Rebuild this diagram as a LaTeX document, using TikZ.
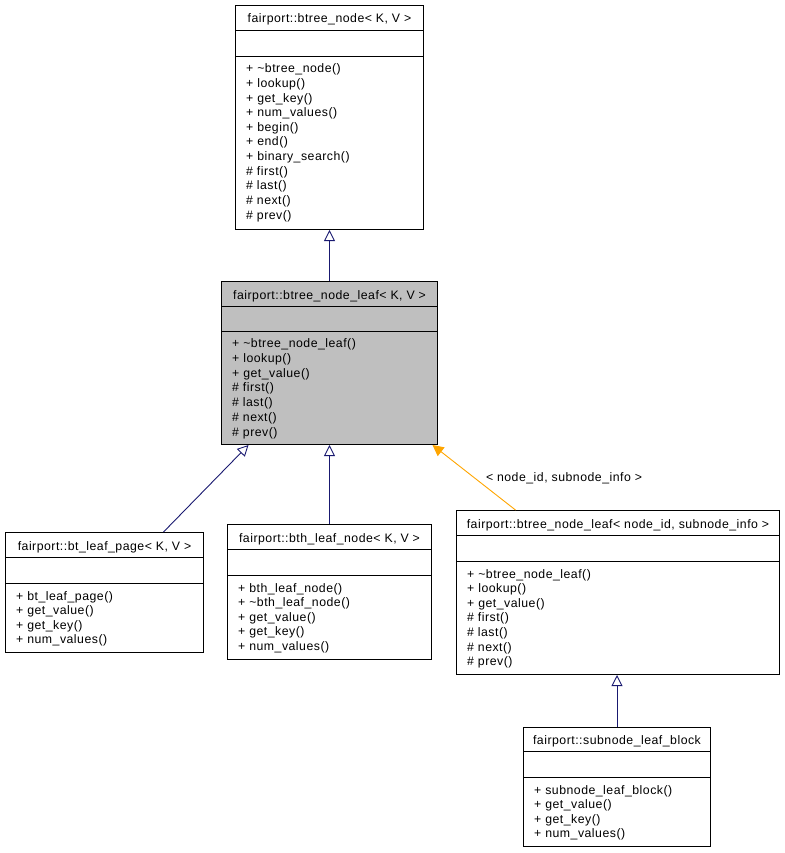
\documentclass[tikz,border=0pt]{standalone}
\usepackage{fontspec}
\setmainfont{Liberation Sans}[LetterSpace=4]
\usetikzlibrary{arrows.meta}
\definecolor{edgeblue}{HTML}{191970}
\definecolor{edgeorange}{HTML}{FFA500}
\definecolor{boxgray}{HTML}{BFBFBF}
\tikzset{
  classbox/.style={draw=black, line width=1pt, anchor=north west, inner sep=0pt},
  cname/.style={font=\fontsize{12.3}{14.6}\selectfont, inner sep=0pt, text height=8.5pt, text depth=2.5pt},
  member/.style={font=\fontsize{12.3}{14.6}\selectfont, anchor=west, inner sep=0pt, text height=8.5pt, text depth=2.5pt},
  inherit/.style={draw=edgeblue, line width=0.9pt, -{Triangle[open, length=11pt, width=11pt]}},
  templ/.style={draw=edgeorange, line width=0.9pt, -{Triangle[length=11pt, width=11pt, fill=edgeorange]}},
}
\begin{document}
\begin{tikzpicture}[x=1pt, y=-1pt]
    \useasboundingbox (0,0) rectangle (784,853);

    % fairport::btree_node
    \node[classbox, minimum width=188pt, minimum height=224pt] (base) at (235,5) {};
    \draw ([yshift=-25pt]base.north west) -- ([yshift=-25pt]base.north east);
    \draw ([yshift=-51pt]base.north west) -- ([yshift=-51pt]base.north east);
    \node[cname] (base-t) at ([yshift=-15pt]base.north) {fairport::btree\_node< K, V >};
    \foreach \m [count=\i] in {+ \textasciitilde btree\_node(), + lookup(), + get\_key(), + num\_values(), + begin(), + end(), + binary\_search(), \# first(), \# last(), \# next(), \# prev()}
        \node[member] (base-m\i) at ([xshift=11pt, yshift={-(65+(\i-1)*14.6)*1pt}]base.north west) {\m};

    % fairport::btree_node_leaf
    \node[classbox, fill=boxgray, minimum width=216pt, minimum height=163pt] (leaf) at (221,281) {};
    \draw ([yshift=-25pt]leaf.north west) -- ([yshift=-25pt]leaf.north east);
    \draw ([yshift=-50pt]leaf.north west) -- ([yshift=-50pt]leaf.north east);
    \node[cname] (leaf-t) at ([yshift=-15pt]leaf.north) {fairport::btree\_node\_leaf< K, V >};
    \foreach \m [count=\i] in {+ \textasciitilde btree\_node\_leaf(), + lookup(), + get\_value(), \# first(), \# last(), \# next(), \# prev()}
        \node[member] (leaf-m\i) at ([xshift=11pt, yshift={-(63.5+(\i-1)*14.8)*1pt}]leaf.north west) {\m};

    % fairport::bt_leaf_page
    \node[classbox, minimum width=198pt, minimum height=120pt] (page) at (5,532) {};
    \draw ([yshift=-25pt]page.north west) -- ([yshift=-25pt]page.north east);
    \draw ([yshift=-51pt]page.north west) -- ([yshift=-51pt]page.north east);
    \node[cname] (page-t) at ([yshift=-15pt]page.north) {fairport::bt\_leaf\_page< K, V >};
    \foreach \m [count=\i] in {+ bt\_leaf\_page(), + get\_value(), + get\_key(), + num\_values()}
        \node[member] (page-m\i) at ([xshift=11pt, yshift={-(65+(\i-1)*14.6)*1pt}]page.north west) {\m};

    % fairport::bth_leaf_node
    \node[classbox, minimum width=204pt, minimum height=135pt] (bthnode) at (227,524) {};
    \draw ([yshift=-25pt]bthnode.north west) -- ([yshift=-25pt]bthnode.north east);
    \draw ([yshift=-51pt]bthnode.north west) -- ([yshift=-51pt]bthnode.north east);
    \node[cname] (bthnode-t) at ([yshift=-15pt]bthnode.north) {fairport::bth\_leaf\_node< K, V >};
    \foreach \m [count=\i] in {+ bth\_leaf\_node(), + \textasciitilde bth\_leaf\_node(), + get\_value(), + get\_key(), + num\_values()}
        \node[member] (bthnode-m\i) at ([xshift=11pt, yshift={-(65+(\i-1)*14.6)*1pt}]bthnode.north west) {\m};

    % fairport::btree_node_leaf< node_id, subnode_info >
    \node[classbox, minimum width=323pt, minimum height=164pt] (leafspec) at (456,510) {};
    \draw ([yshift=-25pt]leafspec.north west) -- ([yshift=-25pt]leafspec.north east);
    \draw ([yshift=-51pt]leafspec.north west) -- ([yshift=-51pt]leafspec.north east);
    \node[cname] (leafspec-t) at ([yshift=-15pt]leafspec.north) {fairport::btree\_node\_leaf< node\_id, subnode\_info >};
    \foreach \m [count=\i] in {+ \textasciitilde btree\_node\_leaf(), + lookup(), + get\_value(), \# first(), \# last(), \# next(), \# prev()}
        \node[member] (leafspec-m\i) at ([xshift=11pt, yshift={-(65+(\i-1)*14.6)*1pt}]leafspec.north west) {\m};

    % fairport::subnode_leaf_block
    \node[classbox, minimum width=187pt, minimum height=119pt] (block) at (523,727) {};
    \draw ([yshift=-24pt]block.north west) -- ([yshift=-24pt]block.north east);
    \draw ([yshift=-50pt]block.north west) -- ([yshift=-50pt]block.north east);
    \node[cname] (block-t) at ([yshift=-14pt]block.north) {fairport::subnode\_leaf\_block};
    \foreach \m [count=\i] in {+ subnode\_leaf\_block(), + get\_value(), + get\_key(), + num\_values()}
        \node[member] (block-m\i) at ([xshift=11pt, yshift={-(64+(\i-1)*14.6)*1pt}]block.north west) {\m};

    % inheritance
    \draw[inherit] (leaf.north) -- (base.south);
    \draw[inherit] ([xshift=59pt]page.north) -- ([xshift=-81pt]leaf.south);
    \draw[inherit] (bthnode.north) -- (leaf.south);
    \draw[templ] ([xshift=-102.5pt]leafspec.north) -- ([xshift=103pt]leaf.south);
    \node[cname] (speclabel) at (564,478) {< node\_id, subnode\_info >};
    \draw[inherit] (block.north) -- (block.north |- leafspec.south);

\end{tikzpicture}
\end{document}
